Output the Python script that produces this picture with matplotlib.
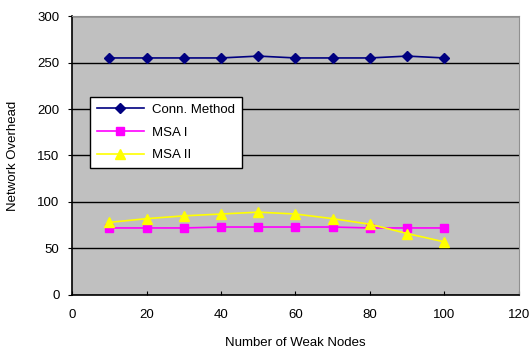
import matplotlib
matplotlib.use('Agg')
import matplotlib.pyplot as plt

# data
weak_nodes = [10, 20, 30, 40, 50, 60, 70, 80, 90, 100]
conn_method = [255, 255, 255, 255, 257, 255, 255, 255, 257, 255]
msa_1 = [72, 72, 72, 73, 73, 73, 73, 72, 72, 72]
msa_2 = [78, 82, 85, 87, 89, 87, 82, 76, 66, 57]

x_ticks = [0, 20, 40, 60, 80, 100, 120]
y_ticks = [0, 50, 100, 150, 200, 250, 300]

plt.rcParams['font.family'] = ['Liberation Sans', 'DejaVu Sans']

fig = plt.figure(figsize=(5.30, 3.51), dpi=100)
fig.patch.set_facecolor('white')
ax = fig.add_axes([0.136, 0.16, 0.843, 0.794])
ax.set_facecolor('#C0C0C0')

ax.plot(weak_nodes, conn_method, color='#000080', marker='D', markersize=5,
        lw=1.2, label='Conn. Method')
ax.plot(weak_nodes, msa_1, color='#FF00FF', marker='s', markersize=6,
        lw=1.2, label='MSA I')
ax.plot(weak_nodes, msa_2, color='#FFFF00', marker='^', markersize=7,
        lw=1.2, label='MSA II')

ax.set_xlim(0, 120)
ax.set_ylim(0, 300)
ax.set_xticks(x_ticks)
ax.set_yticks(y_ticks)
ax.yaxis.grid(True, color='black', lw=1.0)
ax.set_axisbelow(True)
ax.tick_params(axis='both', labelsize=9.5, length=3, color='black', pad=6)
ax.tick_params(axis='x', direction='in', pad=10)

for side in ['left', 'bottom']:
    ax.spines[side].set_color('black')
    ax.spines[side].set_linewidth(1.2)
for side in ['top', 'right']:
    ax.spines[side].set_color('#909090')

ax.set_xlabel('Number of Weak Nodes', fontsize=9.5, labelpad=12)
ax.set_ylabel('Network Overhead', fontsize=9.5, labelpad=13)

leg = ax.legend(loc='upper left', bbox_to_anchor=(0.04, 0.71), borderaxespad=0,
                fontsize=9.5, fancybox=False, framealpha=1, edgecolor='black',
                handlelength=3.6, handletextpad=0.6, labelspacing=0.8,
                borderpad=0.5)
leg.get_frame().set_linewidth(1.0)

fig.savefig('out.png', dpi=100, facecolor='white')
